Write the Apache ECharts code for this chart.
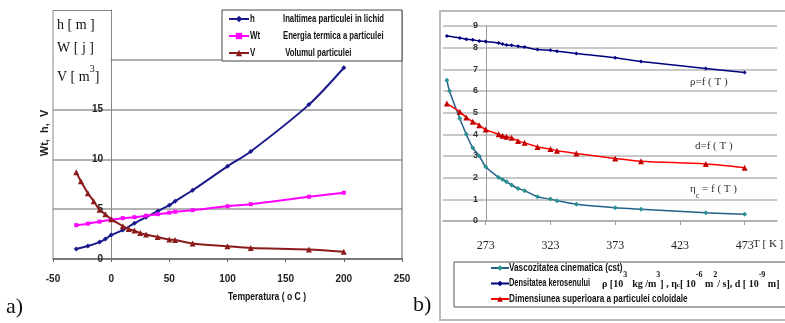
<!DOCTYPE html>
<html>
<head>
<meta charset="utf-8">
<script src="https://cdn.jsdelivr.net/npm/echarts@6/dist/echarts.min.js"></script>
<style>
  html, body { margin: 0; padding: 0; background: #fff; }
  #chart { width: 785px; height: 323px; }
</style>
</head>
<body>
<div id="chart"></div>
<script>
// chart a) - temperature in degrees C
const tempH = [-30, -20, -10, -5, 0, 10, 20, 30, 40, 50, 55, 70, 100, 120, 170, 200];
const hValues = [1.0, 1.3, 1.7, 2.0, 2.4, 2.9, 3.6, 4.2, 4.8, 5.4, 5.8, 6.9, 9.3, 10.8, 15.5, 19.2];
const tempWt = [-30, -20, -10, 0, 10, 20, 30, 40, 50, 55, 70, 100, 120, 170, 200];
const wtValues = [3.4, 3.55, 3.75, 3.95, 4.1, 4.2, 4.35, 4.5, 4.65, 4.75, 4.9, 5.3, 5.5, 6.25, 6.65];
const tempV = [-30, -26, -20, -15, -10, -5, 0, 10, 15, 20, 25, 30, 40, 50, 55, 70, 100, 120, 170, 200];
const vValues = [8.7, 7.8, 6.6, 5.8, 4.95, 4.5, 4.0, 3.3, 3.0, 2.85, 2.6, 2.45, 2.2, 1.95, 1.9, 1.55, 1.28, 1.1, 0.95, 0.72];

// chart b) - same temperatures, axis labelled in K (t + 273)
const tempB = [-30, -20, -15, -10, -5, 0, 10, 13, 16, 20, 25, 30, 40, 50, 55, 70, 100, 120, 170, 200];
const rhoValues = [8.54, 8.45, 8.39, 8.36, 8.31, 8.29, 8.22, 8.17, 8.12, 8.11, 8.06, 8.03, 7.91, 7.88, 7.83, 7.73, 7.53, 7.36, 7.04, 6.85];
const dValues = [5.42, 5.04, 4.78, 4.58, 4.42, 4.22, 4.0, 3.93, 3.89, 3.84, 3.69, 3.61, 3.42, 3.32, 3.24, 3.12, 2.89, 2.76, 2.63, 2.46];
const tempEta = [-30, -28, -20, -15, -10, -5, 0, 10, 13, 16, 20, 25, 30, 40, 50, 55, 70, 100, 120, 170, 200];
const etaValues = [6.5, 6.0, 4.73, 4.0, 3.38, 3.0, 2.5, 2.01, 1.92, 1.81, 1.66, 1.5, 1.4, 1.12, 1.01, 0.94, 0.77, 0.61, 0.54, 0.38, 0.31];

const kelvinTicks = [0, 50, 100, 150, 200];

const legendA = ['h', 'Wt', 'V'];
const legendADesc = ['Inaltimea particulei in lichid', 'Energia termica a particulei', ' Volumul particulei'];
const namesB = [
  'Vascozitatea cinematica (cst)',
  'Densitatea kerosenului',
  'Dimensiunea superioara a particulei coloidale'
];

const sans = "'Liberation Sans', Arial, sans-serif";
const serif = "'Liberation Serif', 'DejaVu Serif', serif";

const zip = (xs, ys) => xs.map((x, i) => [x, ys[i]]);

// condensed text (the original uses a narrow font)
const narrowText = (x, y, text, size, sx, extra) => Object.assign({
  type: 'text', z: 6, x: x, y: y, scaleX: sx,
  style: { text: text, font: 'bold ' + size + 'px ' + sans, fill: '#111', verticalAlign: 'middle' }
}, extra || {});

const chart = echarts.init(document.getElementById('chart'));

const graphics = [
  // chart a frame pieces
  { type: 'line', z: 3, shape: { x1: 53, y1: 10, x2: 53, y2: 259 }, style: { stroke: '#888', lineWidth: 1 } },
  { type: 'line', z: 3, shape: { x1: 402, y1: 10, x2: 402, y2: 259 }, style: { stroke: '#666', lineWidth: 1 } },
  { type: 'rect', z: 2, shape: { x: 53.5, y: 10.5, width: 57, height: 92 }, style: { fill: '#fff' } },
  { type: 'line', z: 3, shape: { x1: 53, y1: 10.5, x2: 111, y2: 10.5 }, style: { stroke: '#888', lineWidth: 1 } },
  { type: 'rect', z: 3, shape: { x: 222, y: 10, width: 180, height: 51 }, style: { fill: '#fff', stroke: '#444', lineWidth: 1 } },
  { type: 'text', z: 4, left: 57, top: 18, style: { text: 'h [ m ]', font: '14px ' + serif, fill: '#111' } },
  { type: 'text', z: 4, left: 57, top: 41, style: { text: 'W [ j ]', font: '14px ' + serif, fill: '#111' } },
  {
    type: 'text', z: 4, left: 57, top: 64,
    style: {
      text: '{n|V [ m}{s|3}{n|]}',
      rich: {
        n: { fontSize: 14, fontFamily: serif, fill: '#111', verticalAlign: 'bottom', lineHeight: 20 },
        s: { fontSize: 10, fontFamily: serif, fill: '#111', verticalAlign: 'top' }
      }
    }
  },
  {
    type: 'text', z: 4, x: 45, y: 133, rotation: Math.PI / 2,
    style: { text: 'Wt,  h,  V', font: 'bold 11px ' + sans, fill: '#222', align: 'center', verticalAlign: 'middle' }
  },
  narrowText(228, 297, 'Temperatura ( o C )', 11, 0.78, {}),
  { type: 'text', left: 6, top: 296, style: { text: 'a)', font: '22px ' + serif, fill: '#111' } },

  // chart b frame and annotations
  { type: 'rect', z: 1, shape: { x: 440, y: 11, width: 352, height: 309 }, style: { fill: 'none', stroke: '#bbb', lineWidth: 2 } },
  { type: 'rect', z: 1, shape: { x: 454, y: 262, width: 340, height: 45 }, style: { fill: '#fff', stroke: '#555', lineWidth: 1 } },
  { type: 'text', left: 413, top: 294, style: { text: 'b)', font: '22px ' + serif, fill: '#111' } },
  { type: 'text', left: 753, top: 239, style: { text: 'T [ K ]', font: '11px ' + serif, fill: '#222' } },
  { type: 'text', left: 690, top: 77, style: { text: 'ρ=f ( T )', font: '11px ' + serif, fill: '#333' } },
  { type: 'text', left: 695, top: 141, style: { text: 'd=f ( T )', font: '11px ' + serif, fill: '#333' } },
  {
    type: 'text', left: 690, top: 184,
    style: {
      text: '{n|η}{s|c}{n| = f ( T )}',
      rich: {
        n: { fontSize: 11, fontFamily: serif, fill: '#333', verticalAlign: 'top', lineHeight: 16 },
        s: { fontSize: 8, fontFamily: serif, fill: '#333', verticalAlign: 'bottom' }
      }
    }
  },
  {
    type: 'text', z: 5, left: 602, top: 271,
    style: {
      text: '{n|ρ [10}{s|3}{n|  kg /m}{s|3}{n|] , η}{b|c}{n|[ 10}{s|-6}{n| m}{s|2}{n|/ s], d [ 10}{s|-9}{n| m]}',
      rich: {
        n: { fontSize: 10, fontFamily: serif, fontWeight: 'bold', fill: '#111', verticalAlign: 'bottom', lineHeight: 18 },
        s: { fontSize: 8, fontFamily: serif, fontWeight: 'bold', fill: '#111', verticalAlign: 'top' },
        b: { fontSize: 7, fontFamily: serif, fontWeight: 'bold', fill: '#111', verticalAlign: 'bottom' }
      }
    }
  }
];

// legend labels of chart a: short name + description
legendA.forEach((name, i) => {
  graphics.push(narrowText(250, 19 + i * 17, name, 11, 0.72));
  graphics.push(narrowText(283, 19 + i * 17, legendADesc[i], 11, 0.7));
});
// legend labels of chart b
const rowsB = [268, 283, 299];
const scaleB = [0.82, 0.74, 0.82];
namesB.forEach((name, i) => {
  graphics.push(narrowText(509, rowsB[i], name, 10, scaleB[i]));
});

const option = {
  animation: false,
  backgroundColor: '#fff',
  grid: [
    { left: 53, top: 10, width: 349, height: 249 },
    { left: 443, top: 26, width: 334, height: 195 }
  ],
  xAxis: [
    {
      gridIndex: 0,
      type: 'value',
      min: -50,
      max: 250,
      interval: 50,
      axisLine: { lineStyle: { color: '#666', width: 1.5 } },
      axisTick: { show: true, length: 3, lineStyle: { color: '#666' } },
      splitLine: { show: false },
      axisLabel: { color: '#222', fontWeight: 'bold', fontSize: 10, margin: 15, fontFamily: sans }
    },
    {
      gridIndex: 1,
      type: 'value',
      min: -33,
      max: 225,
      axisLine: { lineStyle: { color: '#aaa', width: 1.5 } },
      axisTick: { show: true, length: 4, customValues: kelvinTicks, lineStyle: { color: '#999' } },
      splitLine: { show: false },
      axisLabel: {
        customValues: kelvinTicks,
        formatter: v => String(v + 273),
        color: '#222', fontSize: 12, margin: 19, fontFamily: serif
      }
    }
  ],
  yAxis: [
    {
      gridIndex: 0,
      type: 'value',
      min: 0,
      max: 25,
      interval: 5,
      offset: -58,
      axisLine: { show: true, onZero: false, lineStyle: { color: '#888', width: 1 } },
      axisTick: { show: false },
      splitLine: { show: true, showMaxLine: false, lineStyle: { color: '#999', width: 1.5 } },
      axisLabel: {
        formatter: v => (v <= 15 ? String(v) : ''),
        color: '#222', fontWeight: 'bold', fontSize: 10, margin: 8, fontFamily: sans
      }
    },
    {
      gridIndex: 1,
      type: 'value',
      min: 0,
      max: 9,
      interval: 1,
      offset: -43,
      axisLine: { show: true, onZero: false, lineStyle: { color: '#999', width: 1 } },
      axisTick: { show: false },
      splitLine: { show: true, lineStyle: { color: '#c8c8c8', width: 2 } },
      axisLabel: { color: '#333', fontWeight: 'bold', fontSize: 9, margin: 8, fontFamily: sans }
    }
  ],
  legend: [
    {
      data: legendA,
      orient: 'vertical',
      left: 228,
      top: 13,
      padding: 0,
      itemWidth: 20,
      itemHeight: 8,
      itemGap: 5,
      formatter: () => ' ',
      textStyle: { fontSize: 10, lineHeight: 12 }
    },
    {
      data: namesB,
      orient: 'vertical',
      left: 490,
      top: 262.5,
      padding: 0,
      itemWidth: 18,
      itemHeight: 7,
      itemGap: 4.5,
      formatter: () => ' ',
      textStyle: { fontSize: 10, lineHeight: 11 }
    }
  ],
  graphic: graphics,
  series: [
    {
      name: 'h', type: 'line', xAxisIndex: 0, yAxisIndex: 0,
      data: zip(tempH, hValues),
      smooth: 0.3, symbol: 'diamond', symbolSize: 5,
      lineStyle: { color: '#1a1a8c', width: 2 }, itemStyle: { color: '#1a1a8c' }
    },
    {
      name: 'Wt', type: 'line', xAxisIndex: 0, yAxisIndex: 0,
      data: zip(tempWt, wtValues),
      smooth: 0.3, symbol: 'rect', symbolSize: 4,
      lineStyle: { color: '#ff00ff', width: 2 }, itemStyle: { color: '#ff00ff' }
    },
    {
      name: 'V', type: 'line', xAxisIndex: 0, yAxisIndex: 0,
      data: zip(tempV, vValues),
      smooth: 0.3, symbol: 'triangle', symbolSize: 6,
      lineStyle: { color: '#8b1a1a', width: 2 }, itemStyle: { color: '#8b1a1a' }
    },
    {
      name: namesB[0], type: 'line', xAxisIndex: 1, yAxisIndex: 1,
      data: zip(tempEta, etaValues),
      smooth: 0.3, symbol: 'diamond', symbolSize: 5,
      lineStyle: { color: '#22608a', width: 1.5 }, itemStyle: { color: '#2a9090' }
    },
    {
      name: namesB[1], type: 'line', xAxisIndex: 1, yAxisIndex: 1,
      data: zip(tempB, rhoValues),
      smooth: 0.3, symbol: 'diamond', symbolSize: 4,
      lineStyle: { color: '#000080', width: 1.5 }, itemStyle: { color: '#000080' }
    },
    {
      name: namesB[2], type: 'line', xAxisIndex: 1, yAxisIndex: 1,
      data: zip(tempB, dValues),
      smooth: 0.3, symbol: 'triangle', symbolSize: 6,
      lineStyle: { color: '#ff0000', width: 1.5 }, itemStyle: { color: '#c00000' }
    }
  ]
};

chart.setOption(option);
</script>
</body>
</html>
